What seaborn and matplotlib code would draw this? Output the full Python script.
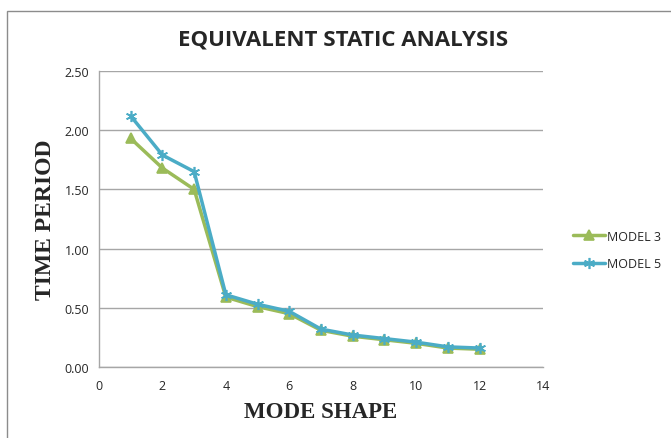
import matplotlib
matplotlib.use("Agg")
import matplotlib.pyplot as plt
import seaborn as sns
import pandas as pd
from matplotlib.patches import Rectangle
from matplotlib.lines import Line2D

mode = [1, 2, 3, 4, 5, 6, 7, 8, 9, 10, 11, 12]
model3 = [1.93, 1.68, 1.50, 0.59, 0.51, 0.45, 0.31, 0.26, 0.23, 0.20, 0.16, 0.15]
model5 = [2.12, 1.79, 1.65, 0.61, 0.53, 0.47, 0.32, 0.27, 0.24, 0.21, 0.17, 0.16]
series_names = ["MODEL 3", "MODEL 5"]
colors = ["#9BBB59", "#4BACC6"]
markers = ["^", (6, 2, 0)]
msizes = [7, 8]

sns.set_style("white")
fig = plt.figure(figsize=(6.71, 4.39), dpi=100)
ax = fig.add_axes([99/671, 1-368/439, (543-99)/671, (368-72)/439])

for vals, name, c, m, ms in zip([model3, model5], series_names, colors, markers, msizes):
    df = pd.DataFrame({"mode": mode, "value": vals})
    sns.lineplot(data=df, x="mode", y="value", color=c, marker=m,
                 linewidth=2.5, markersize=ms, markeredgewidth=1.2,
                 markeredgecolor=c, ax=ax, label=name, legend=False)

ax.set_xlim(0, 14)
ax.set_ylim(0, 2.5)
ax.set_xticks(range(0, 15, 2))
yt = [0, 0.5, 1.0, 1.5, 2.0, 2.5]
ax.set_yticks(yt)
ax.set_yticklabels([f"{v:.2f}" for v in yt])
ax.yaxis.grid(True, color="#A6A6A6", linewidth=1)
ax.set_axisbelow(True)
for s in ["top", "right"]:
    ax.spines[s].set_visible(False)
for s in ["left", "bottom"]:
    ax.spines[s].set_color("#A6A6A6")
    ax.spines[s].set_linewidth(1)
ax.tick_params(axis="x", length=0, labelsize=9, pad=9)
ax.tick_params(axis="y", length=0, labelsize=9, pad=7)
for lab in ax.get_xticklabels() + ax.get_yticklabels():
    lab.set_family("Open Sans")

ax.set_xlabel("MODE SHAPE", family="Liberation Serif", fontweight="bold", fontsize=16.5, labelpad=6)
ax.set_ylabel("TIME PERIOD", family="Liberation Serif", fontweight="bold", fontsize=17, labelpad=6)

fig.text(343/671, 1-40/439, "EQUIVALENT STATIC ANALYSIS", ha="center", va="center",
         family="Open Sans", fontweight="bold", fontsize=16)

handles = [Line2D([], [], color=c, marker=m, markersize=ms, linewidth=2.5,
                  markeredgewidth=1.2, markeredgecolor=c)
           for c, m, ms in zip(colors, markers, msizes)]
fig.legend(handles, series_names, loc="center left",
           bbox_to_anchor=(562/671, 1-251/439), frameon=False,
           prop={"family": "Open Sans", "size": 9}, handlelength=2.5,
           handletextpad=0.2, labelspacing=1.15)

fig.patches.append(Rectangle((7/671, -0.05), 1.1, 1-12/439 + 0.05, transform=fig.transFigure,
                             fill=False, edgecolor="#8C8C8C", linewidth=1))

fig.savefig("out.png", dpi=100)
